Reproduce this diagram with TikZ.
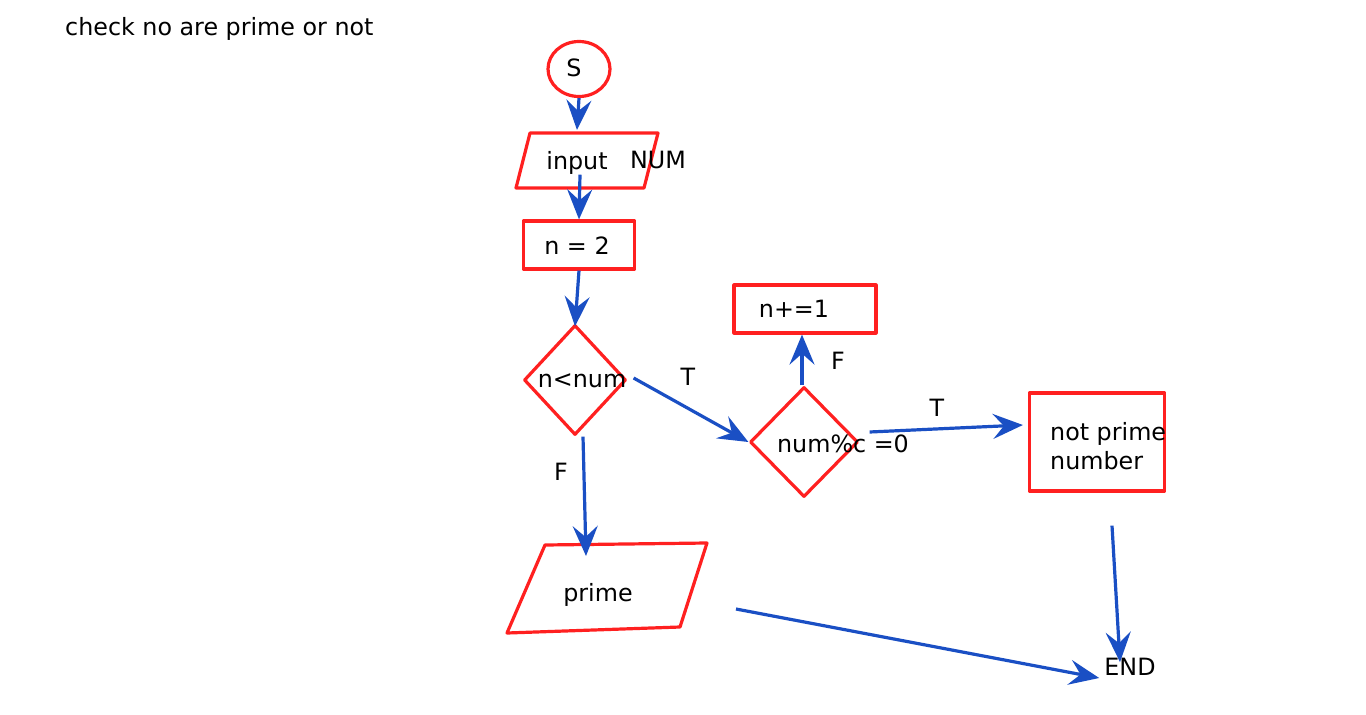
\documentclass[tikz,border=0pt]{standalone}
\usepackage{fontspec}
\setmainfont{DejaVu Sans}
\usetikzlibrary{arrows.meta, positioning, shapes.geometric}
\definecolor{boxred}{HTML}{FF2020}
\definecolor{flowblue}{HTML}{1A4FC4}

\begin{document}
\begin{tikzpicture}[x=1pt, y=-1pt,
    every node/.style={font=\fontsize{23.8}{29}\selectfont, inner sep=0pt},
    redline/.style={draw=boxred, line width=3.2pt, line join=round},
    redbox/.style={redline, rectangle},
    reddiam/.style={redline, diamond},
    startoval/.style={redline, ellipse, minimum width=62pt, minimum height=55pt},
    arr/.style={-{Stealth[length=30pt, width=25pt, inset=11pt]}, flowblue, line width=3.2pt}]
  \useasboundingbox (0,0) rectangle (1366,715);

  % title
  \node[anchor=base west] (title) at (65,35) {check no are prime or not};

  % start and input
  \node[startoval] (s) at (579,69) {};
  \node (st) at (574,68) {S};
  \draw[redline] (530,133) -- (658,133) -- (644,188) -- (516,188) -- cycle;
  \node (in) at (577,163) {input};
  \node (num) at (658,160) {NUM};
  \coordinate (intop) at (577,130);

  % n = 2
  \node[redbox, minimum width=111pt, minimum height=48pt] (n2) at (579,245) {};
  \node (n2t) at (577,246) {n = 2};

  % decision n<num
  \node[reddiam, minimum width=102pt, minimum height=110pt] (d1) at (575,380) {};
  \node (d1t) at (582,381) {n<num};

  % decision num%c =0
  \node[reddiam, minimum width=108pt, minimum height=110pt] (d2) at (804,442) {};
  \node (d2t) at (843,444) {num\%c =0};

  % n+=1
  \node[redbox, minimum width=142pt, minimum height=48pt] (inc) at (805,309) {};
  \node (inct) at (794,309) {n+=1};

  % not prime
  \node[redbox, minimum width=135pt, minimum height=98pt] (np) at (1097,442) {};
  \node[align=left, anchor=west] (npt) at (1050,446) {not prime\\number};

  % prime output
  \draw[redline] (545,545) -- (707,543) -- (680,627) -- (507,633) -- cycle;
  \node (pr) at (598,595) {prime};
  \coordinate (prtop) at (586,556);
  \coordinate (prout) at (736,609);

  \node (end) at (1130,667) {END};

  % connectors
  \draw[arr] (s.south) -- (intop);
  \draw[arr] ([xshift=3pt]in.south) -- (n2.north);
  \draw[arr] (n2.south) -- ([yshift=-3pt]d1.north);
  \draw[arr] ([shift={(6,-2)}]d1.east) -- (d2.west);
  \draw[arr] ([xshift=8pt]d1.south) -- (prtop);
  \draw[arr] ([xshift=-2pt]d2.north) -- ([xshift=-3pt]inc.south);
  \draw[arr] ([shift={(10,-10)}]d2.east) -- ([shift={(-5,-17)}]np.west);
  \draw[arr] ([shift={(15,33)}]np.south) -- ([shift={(-10,4)}]end.north);
  \draw[arr] (prout) -- ([shift={(-5,11)}]end.west);

  % branch labels
  \node (t1) at (688,377) {T};
  \node (f1) at (561,472) {F};
  \node (f2) at (838,361) {F};
  \node (t2) at (937,408) {T};
\end{tikzpicture}
\end{document}
